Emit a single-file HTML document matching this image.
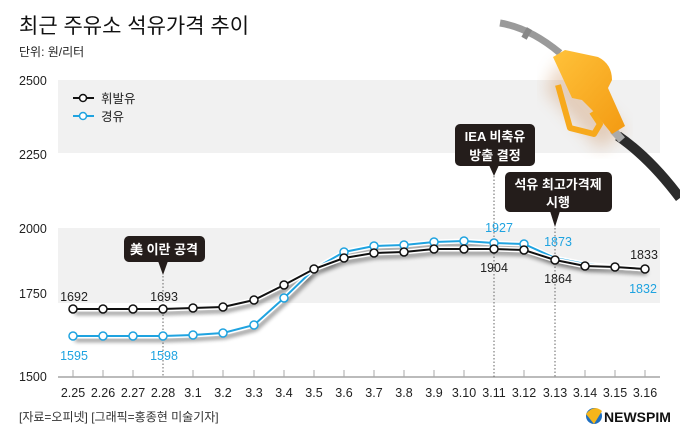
<!DOCTYPE html>
<html><head><meta charset="utf-8"><style>
body{margin:0;width:680px;height:442px;overflow:hidden;background:#fff}
svg{display:block;font-family:"Liberation Sans","Noto Sans CJK KR",sans-serif}
</style></head><body>
<svg width="680" height="442" viewBox="0 0 680 442">
<defs>
<filter id="sh" x="-5%" y="-20%" width="110%" height="160%"><feGaussianBlur stdDeviation="2.2"/></filter>
<filter id="bl"><feGaussianBlur stdDeviation="8"/></filter>
<linearGradient id="yel" x1="0" y1="0" x2="1" y2="1"><stop offset="0" stop-color="#ffc23a"/><stop offset="1" stop-color="#f39a12"/></linearGradient>
</defs>
<text x="19" y="33" font-size="21" fill="#111">최근 주유소 석유가격 추이</text>
<text x="19" y="56" font-size="12" fill="#222">단위: 원/리터</text>
<rect x="58" y="80" width="602" height="73" fill="#f1f1f1"/>
<rect x="58" y="228" width="602" height="75" fill="#f1f1f1"/>
<g font-size="12.5" fill="#222">
<text x="19" y="85">2500</text><text x="19" y="159">2250</text><text x="19" y="233">2000</text><text x="19" y="298">1750</text><text x="19" y="381">1500</text></g>
<line x1="58" y1="377" x2="660" y2="377" stroke="#bbb" stroke-width="2"/>
<g stroke="#aaa" stroke-width="1">
<line x1="73" y1="370" x2="73" y2="377"/><line x1="103" y1="370" x2="103" y2="377"/><line x1="133" y1="370" x2="133" y2="377"/><line x1="193" y1="370" x2="193" y2="377"/><line x1="223" y1="370" x2="223" y2="377"/><line x1="254" y1="370" x2="254" y2="377"/><line x1="284" y1="370" x2="284" y2="377"/><line x1="314" y1="370" x2="314" y2="377"/><line x1="344" y1="370" x2="344" y2="377"/><line x1="374" y1="370" x2="374" y2="377"/><line x1="404" y1="370" x2="404" y2="377"/><line x1="434" y1="370" x2="434" y2="377"/><line x1="464" y1="370" x2="464" y2="377"/><line x1="524" y1="370" x2="524" y2="377"/><line x1="585" y1="370" x2="585" y2="377"/><line x1="615" y1="370" x2="615" y2="377"/><line x1="645" y1="370" x2="645" y2="377"/>
</g>
<g stroke="#666" stroke-width="1" stroke-dasharray="1.5,2">
<line x1="163" y1="276" x2="163" y2="377"/><line x1="494" y1="176" x2="494" y2="377"/><line x1="555" y1="228" x2="555" y2="377"/></g>
<g font-size="12.5" fill="#222" text-anchor="middle">
<text x="73" y="397">2.25</text><text x="103" y="397">2.26</text><text x="133" y="397">2.27</text><text x="163" y="397">2.28</text><text x="193" y="397">3.1</text><text x="223" y="397">3.2</text><text x="254" y="397">3.3</text><text x="284" y="397">3.4</text><text x="314" y="397">3.5</text><text x="344" y="397">3.6</text><text x="374" y="397">3.7</text><text x="404" y="397">3.8</text><text x="434" y="397">3.9</text><text x="464" y="397">3.10</text><text x="494" y="397">3.11</text><text x="524" y="397">3.12</text><text x="555" y="397">3.13</text><text x="585" y="397">3.14</text><text x="615" y="397">3.15</text><text x="645" y="397">3.16</text></g>
<text x="19" y="421" font-size="12" fill="#333">[자료=오피넷] [그래픽=홍종현 미술기자]</text>
<circle cx="594" cy="416" r="8" fill="#1f6fc0"/><path d="M586 414 Q594 404 602 411 L594 424 Z" fill="#f5b51a"/>
<text x="604" y="422" font-size="14" font-weight="bold" fill="#111">NEWSPIM</text>
<!-- pump -->
<path d="M560 60 L625 130 L600 150 L545 90 Z" fill="#c98a55" opacity="0.35" filter="url(#bl)"/>
<path d="M500 23 Q530 28 560 53" stroke="#9a9a9a" stroke-width="7" fill="none"/>
<rect x="524" y="28" width="6" height="11" fill="#888" transform="rotate(30 527 33)"/>
<path d="M618 136 Q650 158 680 198" stroke="#2b2b2b" stroke-width="10" fill="none"/>
<path d="M613 130 L622 140" stroke="#aaa" stroke-width="8"/>
<path d="M553 57 L565 50 L598 57 Q612 64 612 80 L608 88 L625 126 L612 134 L594 112 L582 100 L572 98 Z" fill="url(#yel)"/>
<path d="M558 85 L570 128 L594 134 L600 124 L592 112" stroke="#f7a91c" stroke-width="6" fill="none" stroke-linejoin="round"/>
<legend/>
<line x1="73" y1="98" x2="94" y2="98" stroke="#111" stroke-width="2"/><circle cx="83" cy="98" r="3.5" fill="#fff" stroke="#111" stroke-width="1.5"/>
<line x1="73" y1="116" x2="94" y2="116" stroke="#1fa3e0" stroke-width="2"/><circle cx="83" cy="116" r="3.5" fill="#fff" stroke="#1fa3e0" stroke-width="1.5"/>
<text x="101" y="103" font-size="12.5" fill="#222">휘발유</text><text x="101" y="121" font-size="12.5" fill="#222">경유</text>
<g filter="url(#sh)" opacity="0.55" fill="none" stroke="#000" stroke-width="3">
<polyline transform="translate(2,4)" points="73,336 103,336 133,336 163,336 193,335 223,333 254,325 284,298 314,269 344,252 374,246 404,245 434,242 464,241 494,243 524,244 555,258 585,264 615,267 645,269"/>
<polyline transform="translate(2,4)" points="73,309 103,309 133,309 163,309 193,308 223,307 254,300 284,285 314,269 344,258 374,253 404,252 434,249 464,249 494,249 524,250 555,260 585,266 615,267 645,269"/>
</g>
<polyline fill="none" stroke="#fff" stroke-width="5" points="73,336 103,336 133,336 163,336 193,335 223,333 254,325 284,298 314,269 344,252 374,246 404,245 434,242 464,241 494,243 524,244 555,258 585,264 615,267 645,269"/>
<polyline fill="none" stroke="#1fa3e0" stroke-width="2" points="73,336 103,336 133,336 163,336 193,335 223,333 254,325 284,298 314,269 344,252 374,246 404,245 434,242 464,241 494,243 524,244 555,258 585,264 615,267 645,269"/>
<polyline fill="none" stroke="#fff" stroke-width="5" points="73,309 103,309 133,309 163,309 193,308 223,307 254,300 284,285 314,269 344,258 374,253 404,252 434,249 464,249 494,249 524,250 555,260 585,266 615,267 645,269"/>
<polyline fill="none" stroke="#111" stroke-width="2" points="73,309 103,309 133,309 163,309 193,308 223,307 254,300 284,285 314,269 344,258 374,253 404,252 434,249 464,249 494,249 524,250 555,260 585,266 615,267 645,269"/>
<g fill="#fff" stroke="#1fa3e0" stroke-width="1.5">
<circle cx="73" cy="336" r="4"/><circle cx="103" cy="336" r="4"/><circle cx="133" cy="336" r="4"/><circle cx="163" cy="336" r="4"/><circle cx="193" cy="335" r="4"/><circle cx="223" cy="333" r="4"/><circle cx="254" cy="325" r="4"/><circle cx="284" cy="298" r="4"/><circle cx="344" cy="252" r="4"/><circle cx="374" cy="246" r="4"/><circle cx="404" cy="245" r="4"/><circle cx="434" cy="242" r="4"/><circle cx="464" cy="241" r="4"/><circle cx="494" cy="243" r="4"/><circle cx="524" cy="244" r="4"/></g>
<g fill="#fff" stroke="#111" stroke-width="1.5">
<circle cx="73" cy="309" r="4"/><circle cx="103" cy="309" r="4"/><circle cx="133" cy="309" r="4"/><circle cx="163" cy="309" r="4"/><circle cx="193" cy="308" r="4"/><circle cx="223" cy="307" r="4"/><circle cx="254" cy="300" r="4"/><circle cx="284" cy="285" r="4"/><circle cx="314" cy="269" r="4"/><circle cx="344" cy="258" r="4"/><circle cx="374" cy="253" r="4"/><circle cx="404" cy="252" r="4"/><circle cx="434" cy="249" r="4"/><circle cx="464" cy="249" r="4"/><circle cx="494" cy="249" r="4"/><circle cx="524" cy="250" r="4"/><circle cx="555" cy="260" r="4"/><circle cx="585" cy="266" r="4"/><circle cx="615" cy="267" r="4"/><circle cx="645" cy="269" r="4"/></g>
<g font-size="12.5" text-anchor="middle">
<text x="74" y="301" fill="#222">1692</text><text x="164" y="301" fill="#222">1693</text>
<text x="74" y="360" fill="#1fa3e0">1595</text><text x="164" y="360" fill="#1fa3e0">1598</text>
<text x="499" y="232" fill="#1fa3e0">1927</text><text x="494" y="272" fill="#222">1904</text>
<text x="558" y="246" fill="#1fa3e0">1873</text><text x="558" y="283" fill="#222">1864</text>
<text x="644" y="259" fill="#222">1833</text><text x="643" y="293" fill="#1fa3e0">1832</text></g>
<g fill="#241d1b">
<rect x="124" y="236" width="81" height="26" rx="5"/><path d="M158 261 L163 275 L168 261 Z"/>
<rect x="455" y="124" width="80" height="42" rx="5"/><path d="M489 165 L494 176 L499 165 Z"/>
<rect x="505" y="172" width="107" height="40" rx="5"/><path d="M550 211 L555 227 L560 211 Z"/></g>
<g fill="#fff" font-size="13" font-weight="bold" text-anchor="middle">
<text x="164" y="254">美 이란 공격</text>
<text x="495" y="141">IEA 비축유</text><text x="495" y="160">방출 결정</text>
<text x="558" y="189">석유 최고가격제</text><text x="558" y="207">시행</text></g>
</svg>
</body></html>
